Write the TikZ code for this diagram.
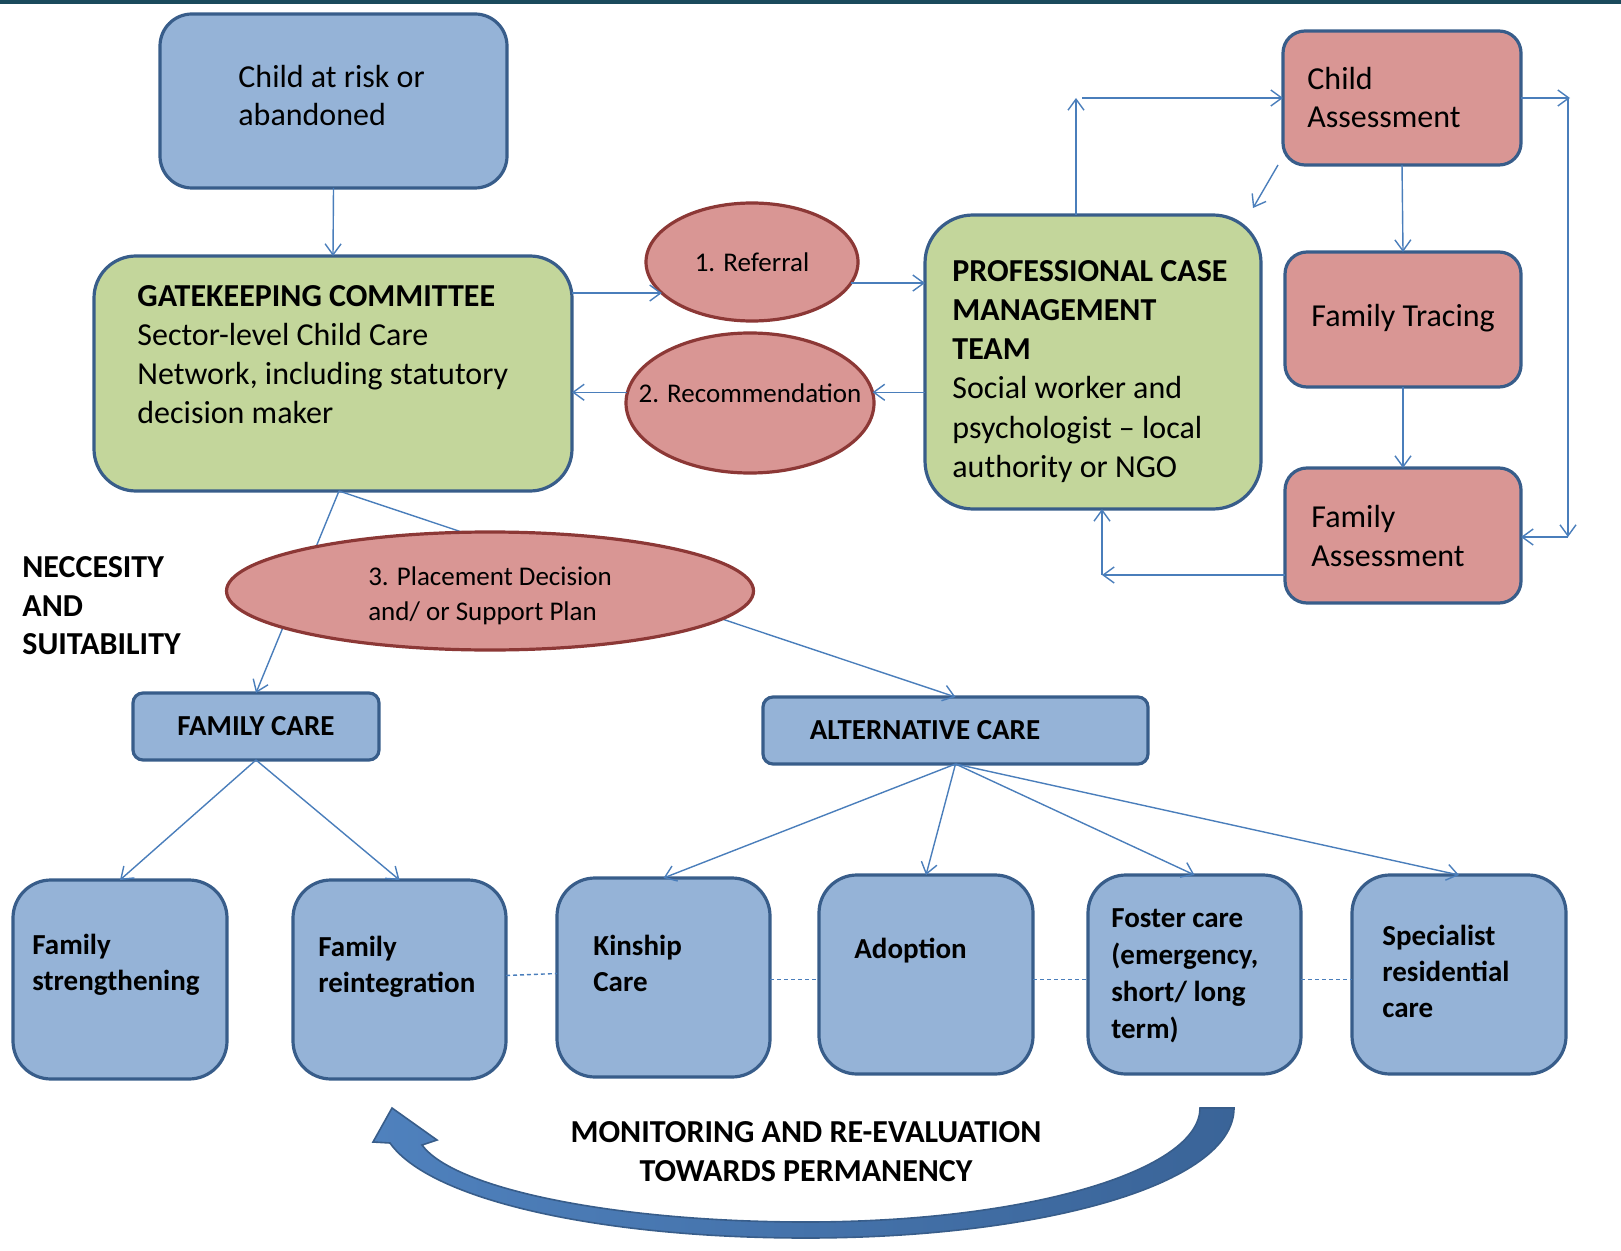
\documentclass[tikz,border=0pt]{standalone}
\usepackage{fontspec}
\setmainfont{Carlito}
\usetikzlibrary{arrows.meta,shapes.geometric}
\definecolor{bluefill}{HTML}{95B3D7}
\definecolor{boxline}{HTML}{385D8A}
\definecolor{greenfill}{HTML}{C3D69B}
\definecolor{redfill}{HTML}{D99694}
\definecolor{redline}{HTML}{8C3836}
\definecolor{conncol}{HTML}{4A7EBB}
\definecolor{topline}{HTML}{1A4A5C}
\definecolor{arrowL}{HTML}{4F81BD}
\definecolor{arrowR}{HTML}{3A6498}
\tikzset{
  bx/.style={rectangle, draw=boxline, line width=1.6pt, inner sep=0pt, outer sep=0pt},
  sz/.style 2 args={minimum width=#1*0.5pt, minimum height=#2*0.5pt},
  bluebox/.style={bx, fill=bluefill},
  greenbox/.style={bx, fill=greenfill},
  redbox/.style={bx, fill=redfill, rounded corners=11pt},
  redell/.style={ellipse, draw=redline, line width=1.6pt, fill=redfill, inner sep=0pt, outer sep=0pt, align=left, font=\fontsize{13.5pt}{17pt}\selectfont},
  txt/.style={anchor=north west, inner sep=0pt, align=left, font=\fontsize{16pt}{19.5pt}\selectfont},
  btxt/.style={anchor=north west, inner sep=0pt, align=left, font=\fontsize{14.5pt}{18pt}\selectfont\bfseries},
  conn/.style={draw=conncol, line width=0.7pt, -{Straight Barb[length=5.5pt,width=8pt]}},
  dconn/.style={draw=conncol, line width=0.7pt, dash pattern=on 2pt off 1.5pt},
  bigarrow/.style={draw=boxline, line width=0.8pt, left color=arrowL, right color=arrowR, shading=axis},
}
\begin{document}
\begin{tikzpicture}[x=0.5pt,y=-0.5pt]
\useasboundingbox (0,0) rectangle (1621,1251);
\fill[topline] (0,0) rectangle (1621,4);

% top-left
\node[bluebox, rounded corners=16pt, sz={347}{174}] (child) at (333.5,101) {};
\node[txt, font=\fontsize{16pt}{19pt}\selectfont] (childt) at (238,65) {Child at risk or\\abandoned};
\node[greenbox, rounded corners=21pt, sz={478}{235}] (gate) at (333,373.5) {};
\node[txt] (gatet) at (137,285) {\textbf{GATEKEEPING COMMITTEE}\\Sector-level Child Care\\Network, including statutory\\decision maker};

% ellipses
\node[redell, sz={212}{118}] (ref) at (752,262) {1. Referral};
\node[redell, sz={248}{140}] (rec) at (750,403) {\makebox[0pt]{\raisebox{0.5pt}[0pt][0pt]{2. Recommendation}}};

% professional team
\node[greenbox, rounded corners=24pt, sz={336}{294}] (prof) at (1093,362) {};
\node[txt, font=\fontsize{16pt}{19.6pt}\selectfont] (proft) at (952,260) {\textbf{PROFESSIONAL CASE}\\\textbf{MANAGEMENT}\\\textbf{TEAM}\\Social worker and\\psychologist – local\\authority or NGO};

% red boxes
\node[redbox, sz={238}{134}] (ca) at (1402,98) {};
\node[txt, font=\fontsize{16pt}{19pt}\selectfont] (cat) at (1307,67) {Child\\Assessment};
\node[redbox, sz={236}{135}] (ft) at (1403,319.5) {};
\node[txt] (ftt) at (1311,304) {Family Tracing};
\node[redbox, sz={236}{135}] (fa) at (1403,535.5) {};
\node[txt] (fat) at (1311,505) {Family\\Assessment};

% side label
\node[txt, font=\fontsize{16pt}{19.4pt}\selectfont\bfseries] (need) at (22,556) {NECCESITY\\AND\\SUITABILITY};

% care boxes
\node[bluebox, rounded corners=5pt, sz={246}{67}, font=\fontsize{14.5pt}{18pt}\selectfont\bfseries] (fcare) at (256,726.5) {FAMILY CARE};
\node[bluebox, rounded corners=5pt, sz={385}{67}] (acare) at (955.5,730.5) {};
\node[inner sep=0pt, font=\fontsize{14.5pt}{18pt}\selectfont\bfseries] (acaret) at (925,730.5) {ALTERNATIVE CARE};

% lines from gatekeeping (behind placement ellipse)
\coordinate (g1) at (339,491);
\draw[conn] (g1) -- (fcare.north);
\draw[conn] (g1) -- (acare.north);
\node[redell, sz={527}{118}] (place) at (490,591) {\makebox[0pt]{\raisebox{-6pt}[0pt][0pt]{\begin{tabular}{@{}l@{}}3. Placement Decision\\[0.5pt]and/ or Support Plan\end{tabular}}}};

% bottom boxes
\node[bluebox, rounded corners=19pt, sz={214}{199}] (fs) at (120,979.5) {};
\node[bluebox, rounded corners=19pt, sz={213}{199}] (fr) at (399.5,979.5) {};
\node[bluebox, rounded corners=19pt, sz={213}{199}] (kc) at (663.5,977.5) {};
\node[bluebox, rounded corners=19pt, sz={214}{199}] (ad) at (926,974.5) {};
\node[bluebox, rounded corners=19pt, sz={213}{199}] (fc) at (1194.5,974.5) {};
\node[bluebox, rounded corners=19pt, sz={214}{199}] (sr) at (1459,974.5) {};
\node[btxt] (fst) at (32,934) {Family\\strengthening};
\node[btxt] (frt) at (318,936) {Family\\reintegration};
\node[btxt] (kct) at (593,935) {Kinship\\Care};
\node[btxt] (adt) at (854,938) {Adoption};
\node[btxt, font=\fontsize{14.5pt}{18.5pt}\selectfont\bfseries] (fct) at (1111,908) {Foster care\\(emergency,\\short/ long\\term)};
\node[btxt] (srt) at (1382,925) {Specialist\\residential\\care};

% connectors top
\draw[conn] (child.south) -- (gate.north);
\draw[conn] (gate.east |- ref.199) -- (ref.199);
\draw[conn] (ref.-12) -- (prof.west |- ref.-12);
\draw[conn] (prof.west |- rec.5) -- (rec.5);
\draw[conn] (rec.175) -- (gate.east |- rec.175);

\coordinate (pu) at (1076,98);
\draw[conn] (prof.north -| pu) -- (pu);
\draw[conn] ([xshift=3pt]pu) -- (ca.west);
\coordinate (cd) at (1253,208);
\draw[conn] ([xshift=-2.5pt]ca.south west) -- (cd);
\draw[conn] (ca.south) -- (ft.north);
\draw[conn] (ft.south) -- (fa.north);

\coordinate (rt) at (1568,98);
\coordinate (rb) at (1568,537);
\draw[conn] (ca.east) -- ([xshift=1pt]rt);
\draw[conn] (rt) -- (rb);
\draw[conn] (rb) -- (fa.east |- rb);

\coordinate (lb) at (1102,575);
\draw[conn] (fa.west |- lb) -- (lb);
\draw[conn] (lb) -- (prof.south -| lb);

% connectors bottom
\draw[conn] (fcare.south) -- (fs.north);
\draw[conn] (fcare.south) -- (fr.north);
\draw[conn] (acare.south) -- (kc.north);
\draw[conn] (acare.south) -- (ad.north);
\draw[conn] (acare.south) -- (fc.north);
\draw[conn] (acare.south) -- (sr.north);

\draw[dconn] ([yshift=2pt]fr.east) -- ([yshift=2pt]kc.west);
\draw[dconn] ([yshift=-2.5pt]kc.east |- ad.west) -- ([yshift=-2.5pt]ad.west);
\draw[dconn] ([yshift=-2.5pt]ad.east) -- ([yshift=-2.5pt]fc.west);
\draw[dconn] ([yshift=-2.5pt]fc.east) -- ([yshift=-2.5pt]sr.west);

% big curved arrow
\path[bigarrow] (392,1108) -- (373,1142) -- (390,1143)
  .. controls (430,1200) and (600,1238) .. (806,1238)
  .. controls (1040,1238) and (1234,1185) .. (1234,1108)
  -- (1200,1108)
  .. controls (1200,1170) and (1030,1222) .. (806,1222)
  .. controls (620,1222) and (455,1190) .. (422,1145)
  -- (437,1140) -- cycle;
\node[inner sep=0pt, align=center, font=\fontsize{16pt}{19.5pt}\selectfont\bfseries] (mon) at (806,1152) {MONITORING AND RE-EVALUATION\\TOWARDS PERMANENCY};
\end{tikzpicture}
\end{document}
